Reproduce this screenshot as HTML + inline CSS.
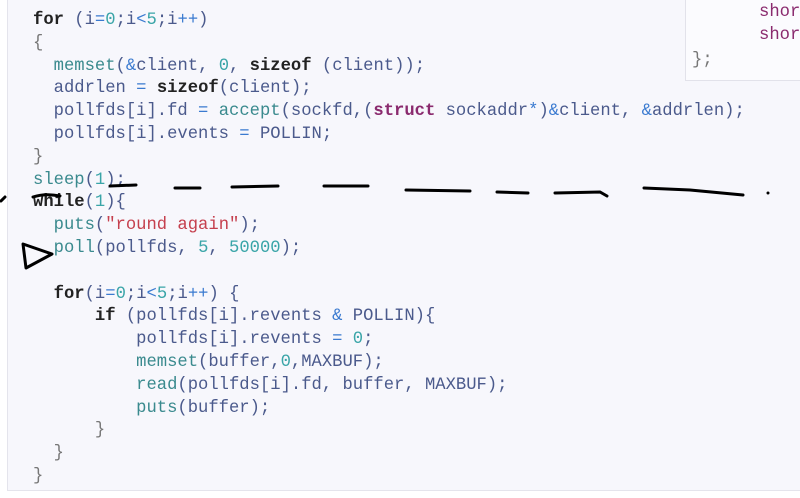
<!DOCTYPE html>
<html><head><meta charset="utf-8"><style>
body{margin:0;width:800px;height:498px;background:#fff;overflow:hidden;position:relative;font-family:"Liberation Mono",monospace;}
#panel{position:absolute;left:7px;top:0;width:800px;height:490px;background:#f7f7fc;border-left:1px solid #e4e4ec;border-bottom:1px solid #e4e4ec;}
#box{position:absolute;left:685px;top:-2px;width:120px;height:81px;background:#fbfbfe;border:1px solid #e2e2ea;}
pre{position:absolute;left:33px;top:10px;margin:0;font-size:17.2px;line-height:22.8px;color:#4b5a8c;font-family:"Liberation Mono",monospace;}
.k{color:#222;font-weight:bold}.f{color:#3a8a8e}.n{color:#3aa5a8}.s{color:#c5404e}.p{color:#8a2a6e;font-weight:bold}.o{color:#3a7ad0}.b{color:#777}
svg{position:absolute;left:0;top:0}
</style></head><body>
<div id="panel"></div>
<div id="box"><pre style="left:73px;top:3px;color:#8a2a6e">shor
shor</pre><pre style="left:6px;top:51px;color:#777">};</pre></div>
<pre><span class="k">for</span> (i<span class="o">=</span><span class="n">0</span>;i<span class="o">&lt;</span><span class="n">5</span>;i<span class="o">++</span>)
<span class="b">{</span>
  <span class="f">memset</span>(<span class="o">&amp;</span>client, <span class="n">0</span>, <span class="k">sizeof</span> (client));
  addrlen <span class="o">=</span> <span class="k">sizeof</span>(client);
  pollfds[i].fd <span class="o">=</span> <span class="f">accept</span>(sockfd,(<span class="p">struct</span> sockaddr<span class="o">*</span>)<span class="o">&amp;</span>client, <span class="o">&amp;</span>addrlen);
  pollfds[i].events <span class="o">=</span> POLLIN;
<span class="b">}</span>
<span class="f">sleep</span>(<span class="n">1</span>);
<span class="k">while</span>(<span class="n">1</span>){
  <span class="f">puts</span>(<span class="s">"round again"</span>);
  <span class="f">poll</span>(pollfds, <span class="n">5</span>, <span class="n">50000</span>);

  <span class="k">for</span>(i<span class="o">=</span><span class="n">0</span>;i<span class="o">&lt;</span><span class="n">5</span>;i<span class="o">++</span>) {
      <span class="k">if</span> (pollfds[i].revents <span class="o">&amp;</span> POLLIN){
          pollfds[i].revents <span class="o">=</span> <span class="n">0</span>;
          <span class="f">memset</span>(buffer,<span class="n">0</span>,MAXBUF);
          <span class="f">read</span>(pollfds[i].fd, buffer, MAXBUF);
          <span class="f">puts</span>(buffer);
      <span class="b">}</span>
  <span class="b">}</span>
<span class="b">}</span></pre>
<svg width="800" height="498"><g stroke="#000" stroke-width="3" fill="none" stroke-linecap="round">
<path d="M110 186 L136 185"/><path d="M175 188 L200 188"/><path d="M232 187 L278 186"/>
<path d="M324 186 L368 186"/><path d="M406 190 L470 191"/><path d="M497 192 L528 193"/>
<path d="M555 193 L600 192 L607 196"/><path d="M644 188 L690 190 L743 195"/>
<path d="M1 201 L5 197"/><path d="M33 197 Q45 193 60 196"/>
<path d="M23 244 L26 268 L52 254 Z" stroke-linejoin="round"/>
</g><circle cx="768" cy="193" r="1.5" fill="#000"/></svg>
</body></html>
